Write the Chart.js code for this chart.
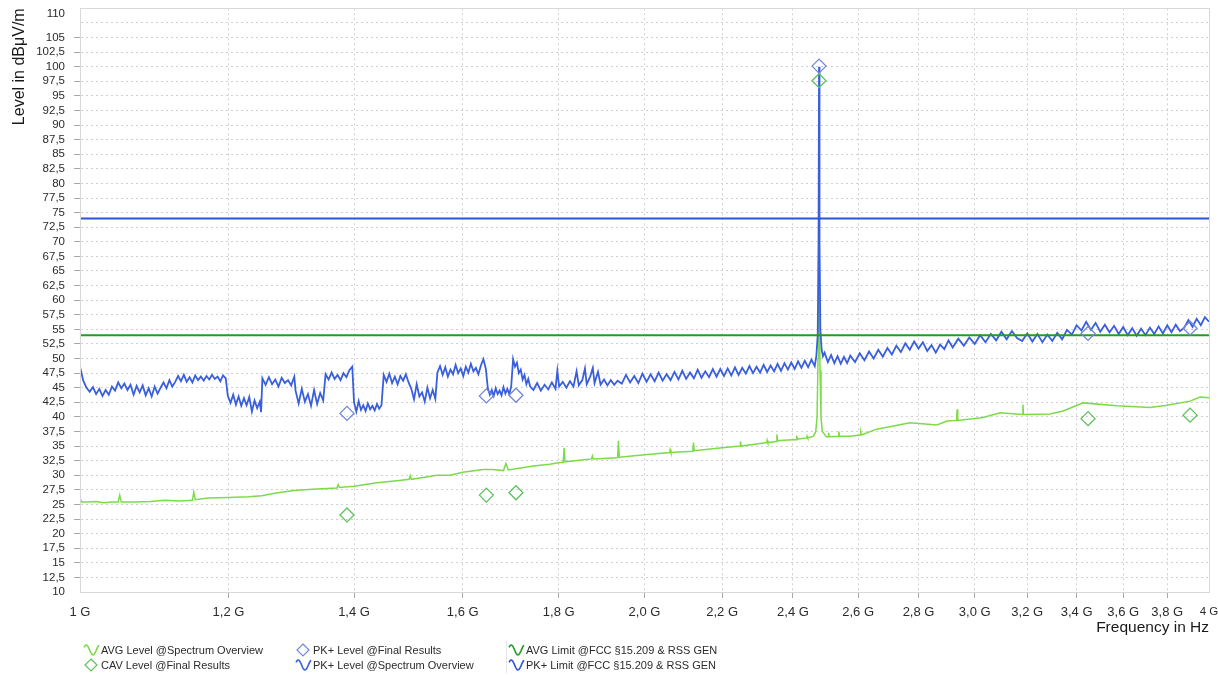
<!DOCTYPE html>
<html><head><meta charset="utf-8">
<script src="https://cdn.jsdelivr.net/npm/chart.js@4.4.1/dist/chart.umd.min.js"></script>
<style>html,body{margin:0;padding:0;background:#fff;}</style>
</head><body>
<canvas id="c" width="1218" height="675"></canvas>
<script>
// ---------- data (GHz, dBµV/m) ----------
const xTickValues = [1, 1.2, 1.4, 1.6, 1.8, 2.0, 2.2, 2.4, 2.6, 2.8, 3.0, 3.2, 3.4, 3.6, 3.8, 4];
const xTickLabels = ['1 G','1,2 G','1,4 G','1,6 G','1,8 G','2,0 G','2,2 G','2,4 G','2,6 G','2,8 G','3,0 G','3,2 G','3,4 G','3,6 G','3,8 G','4 G'];
const yMin = 10, yMax = 110, yStep = 2.5;

const avgLimit = 54;
const pkLimit = 74;

const finalFreq = [1.388, 1.647, 1.708, 2.478, 3.448, 3.908];
const pkFinal   = [40.6, 43.6, 43.7, 100.1, 54.3, 55.2];
const cavFinal  = [23.2, 26.6, 27.0, 97.6, 39.7, 40.3];

const pkFreq = [
 1.000,1.004,1.008,1.012,1.016,1.020,1.024,1.028,1.032,1.036,
 1.040,1.044,1.048,1.052,1.056,1.060,1.064,1.068,1.072,1.076,
 1.080,1.084,1.088,1.092,1.096,1.100,1.104,1.108,1.112,1.116,
 1.120,1.124,1.128,1.132,1.136,1.140,1.144,1.148,1.152,1.156,
 1.160,1.164,1.168,1.172,1.176,1.180,1.184,1.188,1.192,1.196,
 1.199,1.203,1.207,1.211,1.215,1.219,1.223,1.227,1.231,1.235,1.239,1.243,1.247,1.249,
 1.251,1.256,1.261,1.266,1.271,1.276,1.281,1.286,1.291,1.296,1.301,
 1.303,1.308,1.313,1.318,1.323,1.328,1.333,1.338,1.343,1.348,
 1.352,1.357,1.362,1.367,1.372,1.377,1.382,1.387,1.392,1.397,
 1.400,1.404,1.408,1.412,1.416,1.420,1.424,1.428,1.432,1.436,1.440,1.444,1.448,
 1.452,1.457,1.462,1.467,1.472,1.477,1.482,1.487,1.492,1.497,
 1.502,1.507,1.512,1.517,1.522,1.527,1.532,1.537,1.542,1.547,
 1.551,1.556,1.561,1.566,1.571,1.576,1.581,1.586,1.591,1.596,1.601,1.606,1.611,1.616,1.621,1.626,1.631,1.636,1.641,1.646,
 1.650,1.654,1.658,1.662,1.666,1.670,1.674,1.678,1.682,1.686,1.690,1.694,1.698,
 1.702,1.706,1.710,1.714,1.718,1.722,1.726,1.730,1.734,1.738,
 1.745,1.753,1.761,1.769,1.777,1.785,1.793,1.797,1.801,1.809,1.817,1.825,1.833,1.840,1.845,1.853,1.859,1.863,1.871,1.877,1.881,1.889,1.895,1.903,1.911,1.919,1.927,1.935,
 1.945,1.955,1.965,1.975,1.985,1.995,2.005,2.015,2.025,2.035,2.045,2.055,2.065,2.075,2.085,2.095,2.105,2.115,2.125,2.135,2.145,2.155,2.165,2.175,2.185,
 2.195,2.205,2.215,2.225,2.235,2.245,2.255,2.265,2.275,2.285,2.295,2.305,2.315,2.325,2.335,2.345,2.355,2.365,2.375,2.385,2.395,2.405,2.415,2.425,2.435,2.445,2.455,2.465,
 2.470,2.474,2.4765,2.478,2.4795,2.482,2.486,2.490,
 2.495,2.505,2.515,2.525,2.535,2.545,2.555,2.565,2.575,
 2.590,2.605,2.620,2.635,2.650,2.665,2.680,2.695,2.710,2.725,2.740,2.755,2.770,2.785,
 2.800,2.815,2.830,2.845,2.860,2.875,2.890,2.905,
 2.920,2.940,2.960,2.980,3.000,3.020,3.040,3.060,3.080,3.100,3.120,3.140,3.160,
 3.180,3.200,3.220,3.240,3.260,3.280,3.300,3.320,3.340,
 3.360,3.380,3.400,3.420,
 3.440,3.460,3.480,3.500,3.520,3.540,3.560,
 3.580,3.600,3.620,3.640,3.660,3.680,3.700,3.720,
 3.740,3.760,3.780,3.800,3.820,3.840,3.860,
 3.880,3.900,3.920,3.940,3.960,3.980,4.000
];
const pkLevel = [
 48.6,46.2,45.0,44.3,45.1,43.9,44.8,43.6,44.6,43.8,
 45.2,44.5,45.9,44.9,45.7,44.6,45.5,43.8,45.3,44.2,
 45.4,43.7,44.9,43.5,45.2,44.0,45.0,45.9,44.9,46.3,
 45.2,46.0,47.0,46.1,47.2,46.0,46.8,45.9,47.1,46.3,
 46.9,46.2,47.0,46.4,47.2,46.5,46.9,46.1,47.1,46.6,
 43.6,42.4,43.8,42.1,43.5,41.9,43.2,42.0,43.4,40.9,42.8,41.5,42.6,40.8,
 46.6,45.5,46.8,45.6,46.4,45.2,46.7,45.8,46.3,45.4,46.9,
 44.5,42.3,44.8,42.6,43.9,41.9,44.6,42.2,44.1,42.8,
 47.3,46.4,47.6,46.5,47.2,46.3,47.5,46.8,48.0,48.6,
 42.5,40.9,42.7,41.2,42.0,41.0,42.3,41.3,41.9,41.1,42.2,41.4,42.0,
 47.2,46.0,47.4,45.8,46.9,45.6,47.0,46.2,47.3,45.9,
 44.8,43.0,45.6,43.5,44.2,42.6,45.0,43.2,44.6,43.1,
 47.6,48.7,47.2,48.5,46.9,48.1,47.3,48.9,47.5,48.3,47.0,48.6,47.6,49.1,47.8,48.4,47.3,48.8,49.9,48.2,
 44.9,43.8,44.6,43.6,44.9,43.9,44.5,43.7,45.1,44.0,44.8,43.9,45.2,
 49.9,48.6,49.3,47.5,48.1,46.4,47.2,45.6,46.5,45.2,
 44.6,45.8,44.5,45.5,44.7,45.9,44.8,47.9,45.2,46.0,45.0,46.1,45.2,47.8,45.4,46.3,48.3,45.6,46.9,48.4,45.8,47.7,45.5,46.4,45.4,46.3,45.5,46.2,
 45.7,47.2,45.9,47.0,45.8,47.4,46.0,47.3,46.1,47.6,46.2,47.3,46.3,47.7,46.4,47.9,46.5,47.6,46.6,48.1,46.7,47.8,46.8,48.2,46.9,
 48.2,47.0,48.3,47.1,48.5,47.2,48.4,47.4,48.7,47.5,48.6,47.6,48.9,47.7,48.8,47.8,49.1,47.9,49.2,48.1,49.3,48.2,49.5,48.4,49.6,48.5,49.8,48.7,
 50.5,54.0,70.0,100.0,70.0,55.0,51.5,50.4,
 51.0,49.4,50.6,49.2,50.4,49.1,50.3,49.2,50.5,
 49.4,50.9,49.7,51.2,50.0,51.5,50.3,51.8,50.7,52.2,51.1,52.6,51.5,52.9,
 51.7,52.8,51.3,52.3,51.0,52.4,51.6,53.1,
 51.9,53.4,52.2,53.6,52.5,54.0,52.8,54.2,53.1,54.6,53.3,54.7,53.5,
 53.0,54.3,52.9,54.2,52.8,54.1,53.0,54.4,53.3,
 54.9,54.1,55.7,54.8,
 56.3,54.9,56.1,54.6,55.8,54.5,55.6,
 54.2,55.4,54.0,55.2,53.9,55.1,54.0,55.3,
 54.2,55.5,54.3,55.7,54.5,55.8,54.7,
 55.3,56.6,55.4,56.8,55.7,57.1,56.3
];

const avgFreq = [
 1.000,1.002,1.010,1.020,1.030,1.040,1.048,1.050,1.052,1.070,
 1.090,1.110,1.130,1.148,1.150,1.152,1.170,1.200,1.230,1.250,
 1.270,1.300,1.330,1.371,1.373,1.375,1.400,1.440,1.480,1.498,
 1.500,1.502,1.530,1.550,1.575,1.600,1.641,1.660,1.682,1.687,
 1.692,1.745,1.780,1.803,1.810,1.812,1.814,1.874,1.876,1.878,
 1.935,1.937,1.939,2.014,2.063,2.064,2.066,2.122,2.124,2.126,
 2.200,2.249,2.250,2.252,2.300,2.324,2.325,2.327,2.352,2.353,
 2.355,2.372,2.400,2.410,2.411,2.413,2.441,2.442,2.444,2.461,
 2.468,2.472,2.475,2.477,2.478,2.479,2.481,2.484,2.488,2.495,
 2.500,2.506,2.507,2.509,2.538,2.539,2.541,2.574,2.606,2.608,
 2.610,2.660,2.771,2.864,2.900,2.934,2.936,2.938,3.031,3.095,
 3.181,3.183,3.185,3.291,3.344,3.427,3.573,3.721,3.799,3.908,
 3.956,4.000
];
const avgLevel = [
 26.1,25.4,25.4,25.5,25.3,25.4,25.4,26.6,25.4,25.4,
 25.5,25.7,25.6,25.7,27.1,25.8,26.1,26.2,26.3,26.5,
 26.9,27.4,27.6,27.8,28.4,27.9,28.1,28.7,29.1,29.3,
 29.9,29.3,29.7,30.0,30.0,30.5,31.0,31.0,30.8,32.0,
 30.9,31.6,31.9,32.2,32.2,34.7,32.3,32.8,33.3,32.8,
 33.0,35.9,33.1,33.6,33.9,34.4,33.9,34.1,35.6,34.2,
 34.7,35.0,35.8,35.0,35.4,35.6,36.0,35.6,35.8,37.0,
 35.9,36.0,36.1,36.1,36.8,36.2,36.4,36.7,36.4,36.7,
 37.5,40.0,50.0,62.0,65.0,60.0,48.0,40.0,37.5,37.0,
 36.6,36.6,37.3,36.6,36.7,37.5,36.7,36.7,36.9,37.4,
 36.9,37.9,39.0,38.6,39.3,39.4,41.3,39.4,39.9,40.7,
 40.4,42.1,40.4,40.5,41.0,42.4,41.9,41.6,42.0,42.7,
 43.4,43.3
];

const legendLabels = [
 'AVG Level @Spectrum Overview', 'CAV Level @Final Results',
 'PK+ Level @Final Results', 'PK+ Level @Spectrum Overview',
 'AVG Limit @FCC §15.209 & RSS GEN', 'PK+ Limit @FCC §15.209 & RSS GEN'
];

// ---------- styles ----------
const C = {
  avgLevel: '#7cdb48', cav: '#5cc25c', pkFinal: '#7286de', pkLevel: '#3a5fdc',
  avgLimit: '#1f9e1f', pkLimit: '#2c55d4', grid: '#d0d0d0', frame: '#d8d8d8', text: '#2b2b2b'
};
const FONT = "'Liberation Sans', Arial, sans-serif";

const pts = (xs, ys) => xs.map((x, i) => ({x, y: ys[i]}));
const flat = (v) => [{x: xTickValues[0], y: v}, {x: xTickValues[xTickValues.length - 1], y: v}];

const legendPlugin = {
  id: 'customLegend',
  afterDraw(chart) {
    const ctx = chart.ctx;
    ctx.save();
    ctx.font = '11.5px ' + FONT;
    ctx.fillStyle = C.text;
    ctx.textAlign = 'right';
    ctx.textBaseline = 'middle';
    ctx.fillText('110', 65, 14);
    const a = chart.chartArea;
    ctx.strokeStyle = C.frame; ctx.lineWidth = 1;
    ctx.strokeRect(Math.round(a.left) + 0.5, Math.round(a.top) + 0.5, Math.round(a.right - a.left), Math.round(a.bottom - a.top));
    const items = [
      {x: 84, y: 650, kind: 'wave', color: C.avgLevel, text: legendLabels[0]},
      {x: 84, y: 665, kind: 'diamond', color: C.cav, text: legendLabels[1]},
      {x: 296, y: 650, kind: 'diamond', color: C.pkFinal, text: legendLabels[2]},
      {x: 296, y: 665, kind: 'wave', color: C.pkLevel, text: legendLabels[3]},
      {x: 509, y: 650, kind: 'wave', color: C.avgLimit, text: legendLabels[4]},
      {x: 509, y: 665, kind: 'wave', color: C.pkLimit, text: legendLabels[5]}
    ];
    ctx.strokeStyle = '#e4e4e4';
    ctx.beginPath(); ctx.moveTo(506.5, 641); ctx.lineTo(506.5, 673); ctx.stroke();
    ctx.font = '11px ' + FONT;
    ctx.textAlign = 'left';
    ctx.textBaseline = 'middle';
    items.forEach(it => {
      ctx.strokeStyle = it.color;
      if (it.kind === 'wave') {
        ctx.lineWidth = 1.6;
        ctx.beginPath();
        for (let i = 0; i <= 20; i++) {
          const t = i / 20;
          const ph = Math.PI * (0.17 + 2.22 * t);
          const px = it.x + t * 15, py = it.y - 5 * Math.sin(ph);
          i ? ctx.lineTo(px, py) : ctx.moveTo(px, py);
        }
        ctx.stroke();
      } else {
        ctx.lineWidth = 1.2;
        const cx = it.x + 7, cy = it.y, r = 6;
        ctx.beginPath();
        ctx.moveTo(cx, cy - r); ctx.lineTo(cx + r, cy); ctx.lineTo(cx, cy + r); ctx.lineTo(cx - r, cy); ctx.closePath();
        ctx.stroke();
      }
      ctx.fillStyle = C.text;
      ctx.fillText(it.text, it.x + 17, it.y + 0.5);
    });
    ctx.restore();
  }
};

new Chart(document.getElementById('c'), {
  type: 'line',
  data: {
    datasets: [
      {label: legendLabels[1], data: pts(finalFreq, cavFinal), showLine: false, pointStyle: 'rectRot', pointRadius: 7, pointBorderWidth: 1.3, borderColor: C.cav, backgroundColor: 'rgba(0,0,0,0)'},
      {label: legendLabels[2], data: pts(finalFreq, pkFinal), showLine: false, pointStyle: 'rectRot', pointRadius: 7, pointBorderWidth: 1.3, borderColor: C.pkFinal, backgroundColor: 'rgba(0,0,0,0)'},
      {label: legendLabels[4], data: flat(avgLimit), borderColor: C.avgLimit, borderWidth: 2, pointRadius: 0},
      {label: legendLabels[5], data: flat(pkLimit), borderColor: C.pkLimit, borderWidth: 2, pointRadius: 0},
      {label: legendLabels[3], data: pts(pkFreq, pkLevel), borderColor: C.pkLevel, borderWidth: 1.8, pointRadius: 0},
      {label: legendLabels[0], data: pts(avgFreq, avgLevel), borderColor: C.avgLevel, borderWidth: 1.5, pointRadius: 0}
    ]
  },
  options: {
    responsive: false,
    animation: false,
    events: [],
    layout: {padding: {left: 0, right: 9, top: 6, bottom: 38}},
    plugins: {legend: {display: false}, tooltip: {enabled: false}},
    elements: {line: {tension: 0}},
    scales: {
      x: {
        type: 'logarithmic', min: 1, max: 4,
        afterBuildTicks: (axis) => { axis.ticks = xTickValues.map(v => ({value: v})); },
        afterFit: (s) => { s.height = 45; s.paddingLeft = 0; s.paddingRight = 0; },
        ticks: {
          autoSkip: false, maxRotation: 0, padding: 7, color: C.text,
          font: (c) => ({family: FONT, size: c.index === xTickValues.length - 1 ? 11.5 : 13}),
          callback: (v, i) => xTickLabels[i]
        },
        grid: {color: C.grid, tickLength: 6, tickColor: (c) => (c.index === 0 || c.index === xTickValues.length - 1) ? 'rgba(0,0,0,0)' : '#a8a8a8', tickBorderDash: []},
        border: {display: true, color: C.frame, dash: [2, 3]},
        title: {display: true, text: 'Frequency in Hz', align: 'end', color: '#1a1a1a', font: {family: FONT, size: 15.5}, padding: {top: 0, bottom: 0}}
      },
      y: {
        type: 'linear', min: yMin, max: yMax,
        afterFit: (s) => { s.width = 80; s.paddingTop = 0; s.paddingBottom = 0; },
        ticks: {
          stepSize: yStep, autoSkip: false, padding: 9, color: C.text,
          font: {family: FONT, size: 11.5},
          callback: (v) => (v >= 107.5) ? '' : String(v).replace('.', ',')
        },
        grid: {color: C.grid, tickLength: 6, tickColor: (c) => (c.tick && (c.tick.value >= 107.5 || c.tick.value <= 10)) ? 'rgba(0,0,0,0)' : '#a8a8a8', tickBorderDash: []},
        border: {display: true, color: C.frame, dash: [2, 3]},
        title: {display: true, text: 'Level in dBμV/m', align: 'end', color: '#1a1a1a', font: {family: FONT, size: 16}, padding: {top: 10, bottom: 0}}
      }
    }
  },
  plugins: [legendPlugin]
});
</script>
</body></html>
